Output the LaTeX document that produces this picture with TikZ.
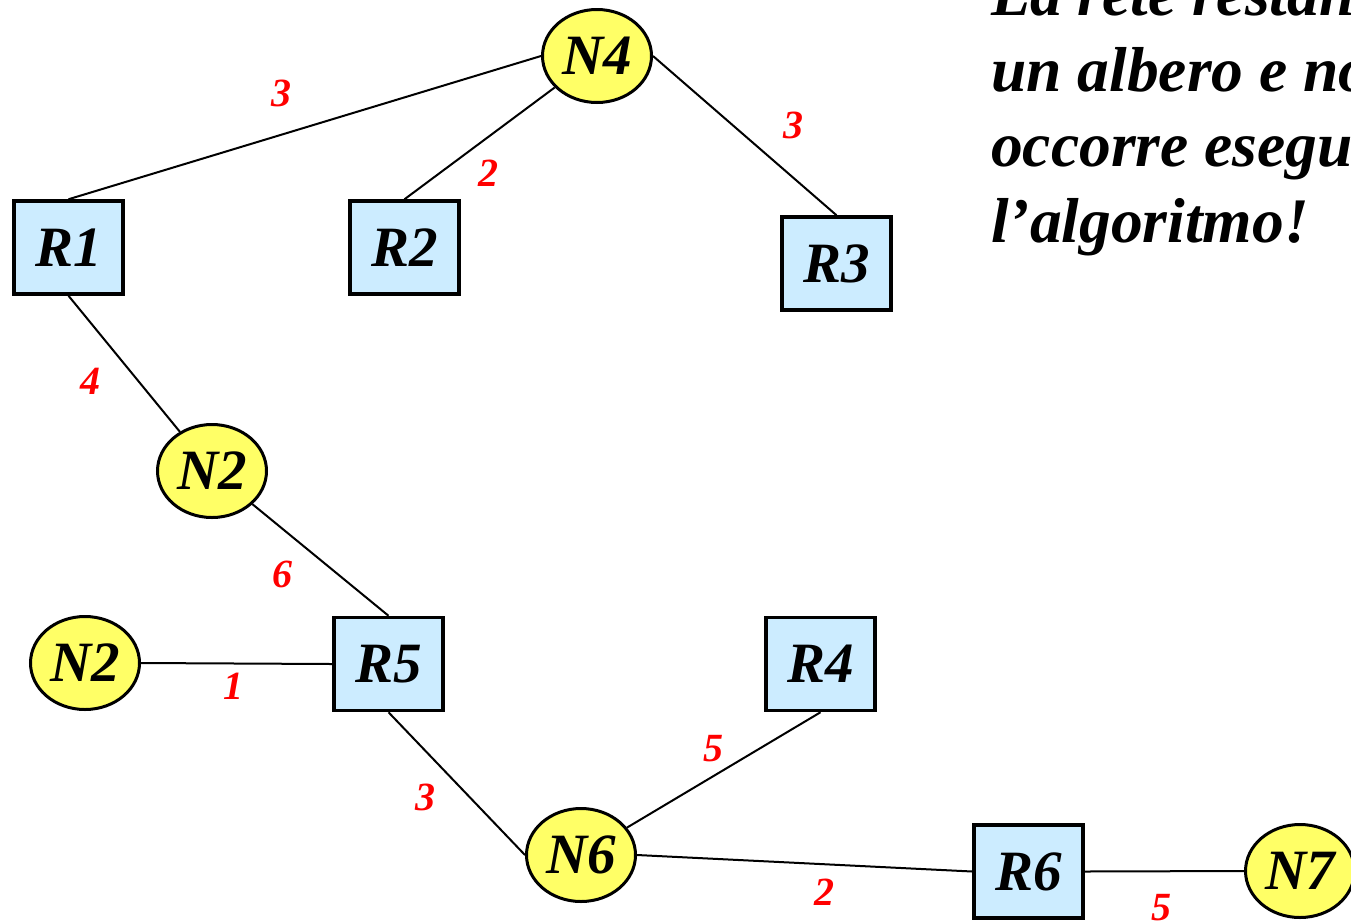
\documentclass[tikz,border=0pt]{standalone}
\usepackage{fontspec}
\setmainfont{Liberation Serif}
\usetikzlibrary{shapes.geometric}
\definecolor{boxfill}{HTML}{CCECFF}
\definecolor{ellfill}{HTML}{FFFF66}
\begin{document}
\begin{tikzpicture}[x=1pt,y=-1pt,
  router/.style={draw, line width=3.5pt, fill=boxfill, minimum width=109pt, minimum height=93pt, inner sep=0pt, font=\fontsize{57}{60}\selectfont\bfseries\itshape},
  net/.style={ellipse, draw, line width=3pt, fill=ellfill, minimum width=109pt, minimum height=93pt, inner sep=0pt, font=\fontsize{57}{60}\selectfont\bfseries\itshape},
  link/.style={line width=2pt},
  wt/.style={text=red, font=\fontsize{40}{44}\selectfont\bfseries\itshape, inner sep=0pt},
  note/.style={anchor=base west, inner sep=0pt, font=\fontsize{63.5}{76}\selectfont\bfseries\itshape}]
\useasboundingbox (0,0) rectangle (1351,922);
\clip (0,0) rectangle (1351,922);
% nodes
\node[net] (N4) at (597,56) {N4};
\node[router] (R1) at (68.5,247.5) {R1};
\node[router] (R2) at (404.5,247.5) {R2};
\node[router] (R3) at (836.5,263.5) {R3};
\node[net] (N2a) at (212,471) {N2};
\node[net] (N2b) at (85,663) {N2};
\node[router] (R5) at (388.5,664) {R5};
\node[router] (R4) at (820.5,664) {R4};
\node[net] (N6) at (581,855) {N6};
\node[router] (R6) at (1028.5,871.5) {R6};
\node[net] (N7) at (1300,871) {N7};
% links
\draw[link] (R1.north) -- (N4.west);
\draw[link] (R2.north) -- (N4);
\draw[link] (N4.east) -- (R3.north);
\draw[link] (R1.south) -- (N2a);
\draw[link] (N2a) -- (R5.north);
\draw[link] (N2b.east) -- (R5.west);
\draw[link] (R5.south) -- (N6.west);
\draw[link] (N6) -- (R4.south);
\draw[link] (N6.east) -- (R6.west);
\draw[link] (R6.east) -- (N7.west);
% weights
\node[wt] (w1) at (281,93) {3};
\node[wt] (w2) at (488,173) {2};
\node[wt] (w3) at (793,125) {3};
\node[wt] (w4) at (90,381) {4};
\node[wt] (w5) at (282,574) {6};
\node[wt] (w6) at (233,686) {1};
\node[wt] (w7) at (425,797) {3};
\node[wt] (w8) at (713,749) {5};
\node[wt] (w9) at (824,892) {2};
\node[wt] (w10) at (1161,908) {5};
% note
\node[note] (t1) at (991,15) {La rete restante è};
\node[note] (t2) at (991,91) {un albero e non};
\node[note] (t3) at (991,166) {occorre eseguire};
\node[note] (t4) at (991,242) {l’algoritmo!};
\end{tikzpicture}
\end{document}
